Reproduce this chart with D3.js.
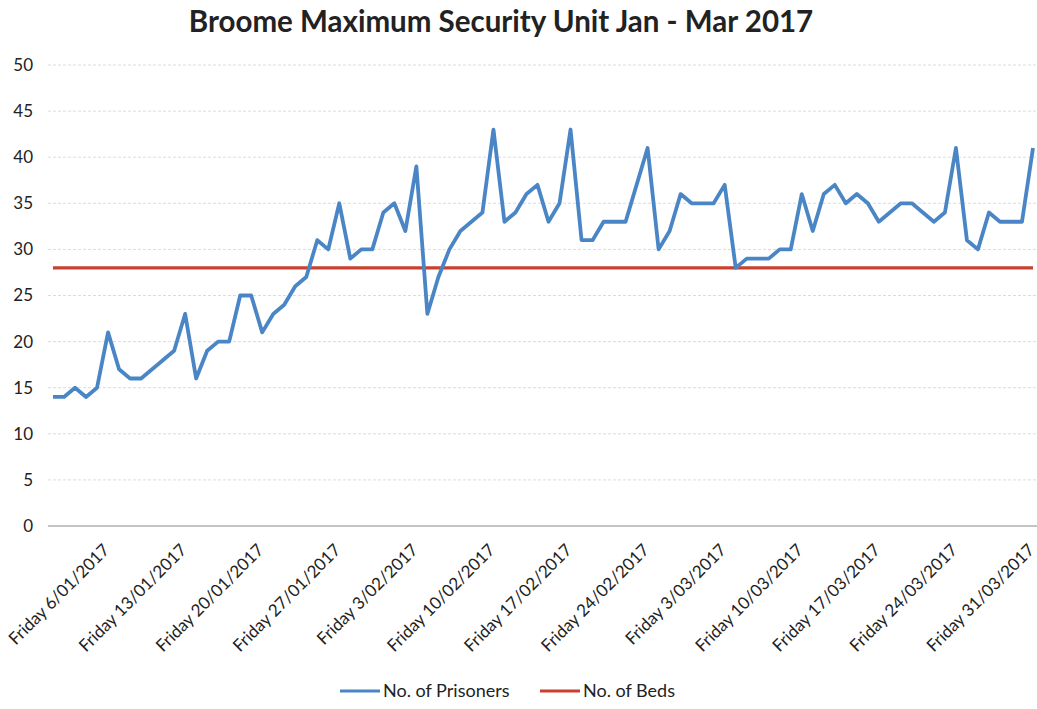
<!DOCTYPE html>
<html>
<head>
<meta charset="utf-8">
<script src="https://cdn.jsdelivr.net/npm/d3@7"></script>
<style>
  body { margin: 0; background: #fff; }
  svg text { font-family: "Lato", "Open Sans", sans-serif; fill: #222; }
</style>
</head>
<body>
<svg id="chart" width="1037" height="709"></svg>
<script>
////////////////////////////////////////////////////////////////////////////////////////
// data (daily counts 1 Jan - 31 Mar 2017)
////////////////////////////////////////////////////////////////////////////////////////
var startDate = new Date(2017, 0, 1);
var prisoners = [
	14, 14, 15, 14, 15, 21, 17, 16, 16, 17, 18, 19, 23, 16, 19, 20, 20, 25, 25, 21,
	23, 24, 26, 27, 31, 30, 35, 29, 30, 30, 34, 35, 32, 39, 23, 27, 30, 32, 33, 34,
	43, 33, 34, 36, 37, 33, 35, 43, 31, 31, 33, 33, 33, 37, 41, 30, 32, 36, 35, 35,
	35, 37, 28, 29, 29, 29, 30, 30, 36, 32, 36, 37, 35, 36, 35, 33, 34, 35, 35, 34,
	33, 34, 41, 31, 30, 34, 33, 33, 33, 41
];
var beds = prisoners.map(function () { return 28; });
var yTicks = [0, 5, 10, 15, 20, 25, 30, 35, 40, 45, 50];
var labelEvery = 7, labelOffset = 5; // every Friday

var days = prisoners.map(function (d, i) {
	return new Date(startDate.getFullYear(), startDate.getMonth(), startDate.getDate() + i);
});
function dayLabel(dt) {
	return "Friday " + dt.getDate() + "/" + d3.format("02")(dt.getMonth() + 1) + "/" + dt.getFullYear();
}

////////////////////////////////////////////////////////////////////////////////////////
// chart
////////////////////////////////////////////////////////////////////////////////////////
var svg = d3.select("#chart");
var plotLeft = 53, plotRight = 1033, plotTop = 65, plotBottom = 526;

var x = d3.scalePoint().domain(d3.range(prisoners.length)).range([plotLeft, plotRight]);
var y = d3.scaleLinear().domain([0, 50]).range([plotBottom, plotTop]);

// title
svg.append("text")
	.attr("x", 501).attr("y", 32)
	.attr("text-anchor", "middle")
	.style("font-size", "29.5px").style("font-weight", "bold")
	.text("Broome Maximum Security Unit Jan - Mar 2017");

// grid
svg.append("g").selectAll("line")
	.data(yTicks.filter(function (t) { return t > 0; }))
	.join("line")
	.attr("x1", 48).attr("x2", 1037)
	.attr("y1", function (d) { return y(d); }).attr("y2", function (d) { return y(d); })
	.attr("stroke", "#dcdcdc").attr("stroke-width", 1)
	.attr("stroke-dasharray", "3,2");

// y axis labels
var yAxis = d3.axisLeft(y).tickValues(yTicks).tickSize(0).tickPadding(0);
svg.append("g")
	.attr("transform", "translate(33,0)")
	.call(yAxis)
	.call(function (g) { g.select(".domain").remove(); })
	.selectAll("text")
	.style("font-size", "17px").attr("fill", "#222");

// x axis
var xAxis = d3.axisBottom(x)
	.tickValues(d3.range(labelOffset, prisoners.length, labelEvery))
	.tickFormat(function (i) { return dayLabel(days[i]); })
	.tickSize(0).tickPadding(0);
var gx = svg.append("g")
	.attr("transform", "translate(0," + plotBottom + ")")
	.call(xAxis);
gx.select(".domain").remove();
gx.selectAll("text")
	.style("font-size", "17px").attr("fill", "#222")
	.attr("text-anchor", "end")
	.attr("dy", null)
	.attr("transform", "translate(2,25) rotate(-45)");

svg.append("line")
	.attr("x1", 48).attr("x2", 1037)
	.attr("y1", plotBottom).attr("y2", plotBottom)
	.attr("stroke", "#888").attr("stroke-width", 1);

// lines
var line = d3.line()
	.x(function (d, i) { return x(i); })
	.y(function (d) { return y(d); });

svg.append("path").datum(beds)
	.attr("d", line)
	.attr("fill", "none").attr("stroke", "#c8412f").attr("stroke-width", 3.2);

svg.append("path").datum(prisoners)
	.attr("d", line)
	.attr("fill", "none").attr("stroke", "#4a86c6").attr("stroke-width", 3.8)
	.attr("stroke-linejoin", "round");

// legend
var legend = [
	{name: "No. of Prisoners", color: "#4a86c6", x: 340},
	{name: "No. of Beds", color: "#c8412f", x: 540}
];
var lg = svg.append("g").selectAll("g").data(legend).join("g")
	.attr("transform", function (d) { return "translate(" + d.x + ",691)"; });
lg.append("line").attr("x1", 0).attr("x2", 40)
	.attr("stroke", function (d) { return d.color; }).attr("stroke-width", 3);
lg.append("text").attr("x", 43).attr("dy", "0.35em")
	.style("font-size", "18px")
	.text(function (d) { return d.name; });
</script>
</body>
</html>
